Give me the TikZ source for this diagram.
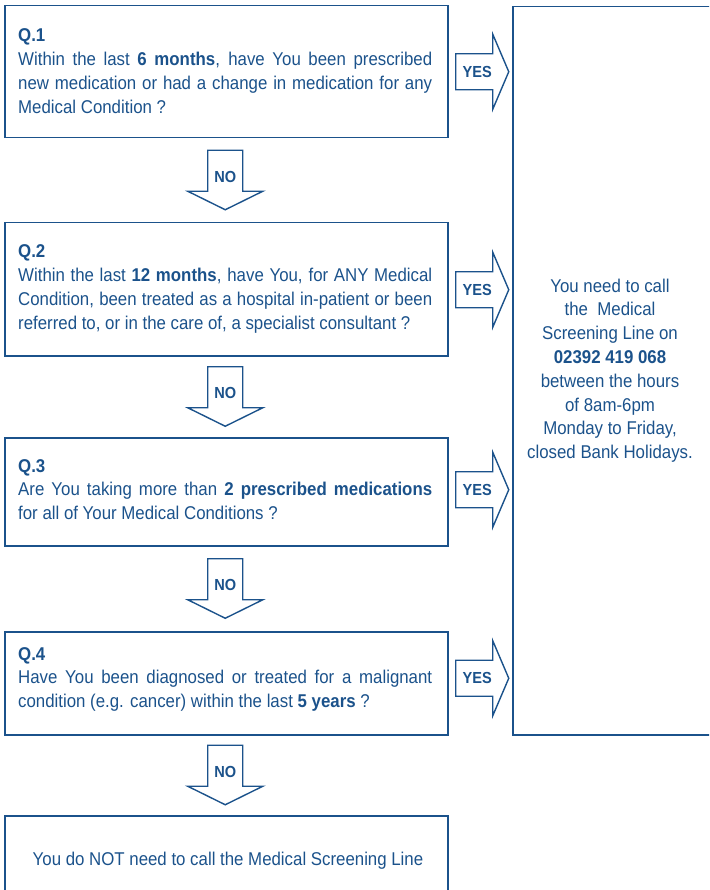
\documentclass[tikz,border=0pt]{standalone}
\usepackage{fontspec}
\setmainfont{Liberation Sans}[FakeStretch=0.91]
\usetikzlibrary{calc}
\definecolor{navy}{RGB}{27,82,139}
\begin{document}
\begin{tikzpicture}[x=1pt,y=-1pt,
  qbox/.style={draw=navy, line width=1.5pt, anchor=north west, inner sep=0pt, minimum width=443pt},
  blockarrow/.style={draw=navy, line width=1.4pt, fill=white, line join=miter},
  lbl/.style={font=\fontsize{16}{18}\selectfont\bfseries, text=navy, inner sep=0pt},
  qtext/.style={anchor=base west, inner sep=0pt, text=navy, font=\fontsize{18.5}{23.8}\selectfont},
]
\useasboundingbox (0,0) rectangle (709,890);
\clip (0,0) rectangle (709,890);
% boxes
\node[qbox, minimum height=132pt] (q1) at (4,5) {};
\node[qbox, minimum height=133pt] (q2) at (4,222) {};
\node[qbox, minimum height=108pt] (q3) at (4,437) {};
\node[qbox, minimum height=103pt] (q4) at (4,631) {};
\node[qbox, minimum height=100pt] (fin) at (4,815) {};
\node[qbox, minimum width=215pt, minimum height=728pt] (r) at (512,6) {};
% texts
\node[qtext] (q1t) at (18,42) {\parbox[t]{414pt}{\textbf{Q.1}\par
Within the last \textbf{6 months}, have You been prescribed\linebreak
new medication or had a change in medication for any\linebreak
Medical Condition ?}};
\node[qtext] (q2t) at (18,258) {\parbox[t]{414pt}{\textbf{Q.2}\par
Within the last \textbf{12 months}, have You, for ANY Medical\linebreak
Condition, been treated as a hospital in-patient or been\linebreak
referred to, or in the care of, a specialist consultant ?}};
\node[qtext] (q3t) at (18,472) {\parbox[t]{414pt}{\textbf{Q.3}\par
Are You taking more than \textbf{2 prescribed medications}\linebreak
for all of Your Medical Conditions ?}};
\node[qtext] (q4t) at (18,660) {\parbox[t]{414pt}{\textbf{Q.4}\par
Have You been diagnosed or treated for a malignant\linebreak
condition (e.g. cancer) within the last \textbf{5 years} ?}};
\node[qtext, anchor=base] (rt) at (610,292) {\parbox[t]{190pt}{\centering
You need to call\\
the\ \ Medical\\
Screening Line on\\
\textbf{02392 419 068}\\
between the hours\\
of 8am-6pm\\
Monday to Friday,\\
closed Bank Holidays.}};
\node[qtext, anchor=base] (ft) at (228,865) {You do NOT need to call the Medical Screening Line};
% NO arrows
\foreach \a/\b/\n in {q1/q2/no1, q2/q3/no2, q3/q4/no3, q4/fin/no4}{
  \draw[blockarrow, shift={($(\a.south)!0.5!(\b.north)+(-1,0)$)}]
    (-17.5,-30) -- (17.5,-30) -- (17.5,11) -- (37.5,11) -- (0,29.5) -- (-37.5,11) -- (-17.5,11) -- cycle;
  \node[lbl] (\n) at ($(\a.south)!0.5!(\b.north)+(-1,-3.5)$) {NO};
}
% YES arrows
\foreach \a/\dy/\n in {q1/0/yes1, q2/0.5/yes2, q3/-2/yes3, q4/-5/yes4}{
  \draw[blockarrow, shift={($(\a.east)!0.5!(\a.east -| r.west)+(0,\dy)$)}]
    (-24.5,-18) -- (12.5,-18) -- (12.5,-37.5) -- (28.5,0) -- (12.5,37.5) -- (12.5,18) -- (-24.5,18) -- cycle;
  \node[lbl] (\n) at ($(\a.east)!0.5!(\a.east -| r.west)+(-3,\dy)$) {YES};
}
\end{tikzpicture}
\end{document}
